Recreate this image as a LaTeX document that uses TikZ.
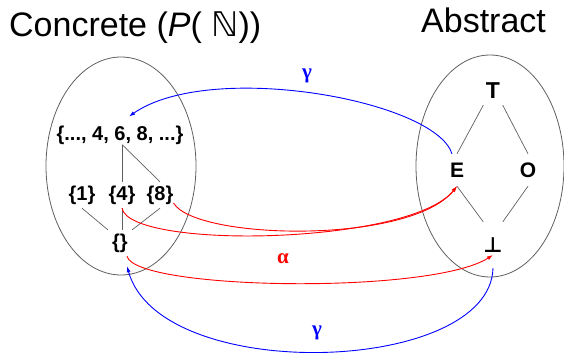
\documentclass[tikz,border=0pt]{standalone}
\usepackage{fontspec}
\setmainfont{Liberation Sans}
\newfontfamily\symfont{DejaVu Sans}
\newfontfamily\grkfont{Liberation Serif}
\usetikzlibrary{shapes.geometric,arrows.meta}
\definecolor{lnGray}{RGB}{95,95,95}
\begin{document}
\begin{tikzpicture}[x=1pt,y=-1pt,
  setnode/.style={font=\fontsize{20}{22}\selectfont\bfseries, inner sep=0pt, minimum height=26pt},
  elem/.style={font=\fontsize{21}{24}\selectfont\bfseries, inner sep=0pt, minimum width=19pt},
  lnk/.style={draw=lnGray, line width=0.7pt},
  ell/.style={draw=lnGray, line width=0.8pt, ellipse, inner sep=0pt},
  amap/.style={draw=red, line width=0.9pt, -{Latex[length=6pt,width=4pt]}},
  gmap/.style={draw=blue, line width=0.9pt, -{Latex[length=6pt,width=4pt]}},
  glabel/.style={font=\grkfont\fontsize{21}{24}\selectfont\bfseries},
  title/.style={font=\fontsize{34}{40}\selectfont, anchor=base west, inner sep=0pt}
]
\useasboundingbox (0,0) rectangle (564,358);

\node[title] (tc) at (9,37) {Concrete (\textit{P}( {\symfont ℕ}))};
\node[title] (ta) at (421,33) {Abstract};

\node[ell, minimum width=150pt, minimum height=218pt] (L) at (121,166) {};
\node[ell, minimum width=148pt, minimum height=222pt] (R) at (490,166) {};

% concrete lattice
\node[setnode, minimum height=18pt] (top) at (120,135) {\{..., 4, 6, 8, ...\}};
\node[setnode] (s1) at (82,195) {\{1\}};
\node[setnode] (s4) at (122,195) {\{4\}};
\node[setnode] (s8) at (160,195) {\{8\}};
\node[setnode, minimum width=24pt] (emp) at (120,243) {\{\}};

\draw[lnk] (top.south -| s4.north) -- (s4.north);
\draw[lnk] (top.south -| s4.north) -- (s8.north);
\draw[lnk] (s1.south) -- (emp.north west);
\draw[lnk] (s4.south) -- (s4.south |- emp.north);
\draw[lnk] (s8.south) -- (emp.north east);

% abstract lattice
\node[elem, minimum height=28pt, font=\fontsize{23}{24}\selectfont\bfseries] (T) at (493,91) {T};
\node[elem, minimum height=32pt] (E) at (457,170) {E};
\node[elem, minimum height=32pt] (O) at (528,170) {O};
\node[elem, minimum height=46pt, font=\symfont\fontsize{21}{22}\selectfont\bfseries] (bot) at (493,245) {⊥};

\draw[lnk] (T.south west) -- (E.north);
\draw[lnk] (T.south east) -- (O.north);
\draw[lnk] (E.south) -- (bot.north west);
\draw[lnk] (O.south) -- (bot.north east);

% maps
\draw[gmap] ([xshift=-5pt]E.north) .. controls (435,100) and (210,60) .. ([xshift=9pt,yshift=9pt]top.north);
\draw[amap] (s4.south) .. controls (130,250) and (410,245) .. (E.south);
\draw[amap] ([yshift=-8pt]s8.east) .. controls (195,240) and (410,245) .. (E.south);
\draw[amap] ([xshift=7pt]emp.south) .. controls (135,290) and (430,295) .. ([yshift=-10pt]bot.center);
\draw[gmap] (bot.south) .. controls (490,375) and (160,385) .. ([xshift=7pt,yshift=-10pt]emp.south);

\node[glabel, text=blue] (g1) at (307,76) {γ};
\node[glabel, text=red] (a1) at (283,259) {α};
\node[glabel, text=blue] (g2) at (317,333) {γ};
\end{tikzpicture}
\end{document}
